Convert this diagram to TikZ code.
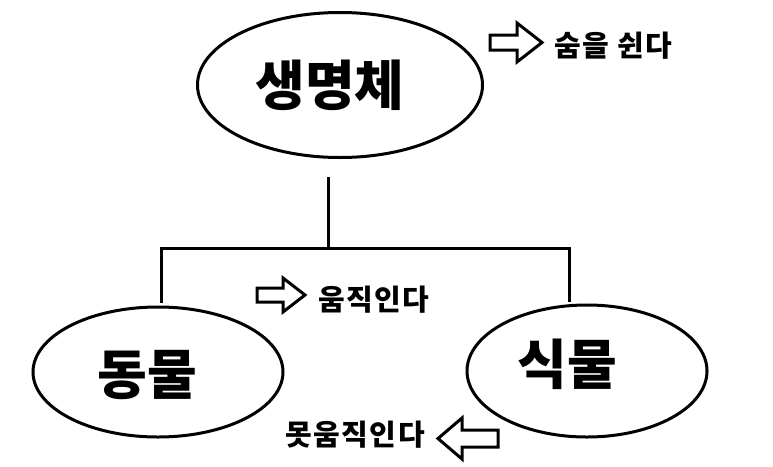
\documentclass[tikz,border=0pt]{standalone}
\usepackage{fontspec}
\setmainfont{Noto Sans CJK KR}
\usepackage{tikz}
\usetikzlibrary{positioning,shapes.geometric}

\begin{document}
\begin{tikzpicture}[
    x=1pt, y=-1pt,
    bubble/.style={
        draw,
        ellipse,
        line width=3pt,
        inner sep=0pt
    },
    bigtext/.style={
        font=\fontsize{54}{60}\selectfont\bfseries,
        inner sep=0pt
    },
    smalltext/.style={
        font=\fontsize{29}{33}\selectfont\bfseries\addfontfeature{LetterSpace=5},
        inner sep=0pt
    },
    branch/.style={line width=3pt},
    blockarrow/.style={draw, fill=white, line width=3pt}
]

% Canvas
\useasboundingbox[fill=white] (0,0) rectangle (773,466);

% Top ellipse
\node[bubble, minimum width=285pt, minimum height=145pt] (life) at (340,85) {};
\node[bigtext] (lifetext) at ([xshift=-10pt]life.center) {생명체};

% Bottom ellipses
\node[bubble, minimum width=250pt, minimum height=130pt] (animal) at (158,372) {};
\node[bigtext] (animaltext) at ([xshift=-11pt,yshift=-3pt]animal.center) {동물};
\node[bubble, minimum width=240pt, minimum height=132pt] (plant) at (587,371) {};
\node[bigtext] (planttext) at ([xshift=-20pt,yshift=7pt]plant.center) {식물};

% Tree lines
\coordinate (trunk) at (328,177);
\coordinate (fork) at (328,248);
\coordinate (leftfoot) at (161,303);
\coordinate (rightfoot) at (569,302);
\draw[branch] (trunk) -- (fork);
\draw[branch] (leftfoot) |- (fork) -| (rightfoot);

% Arrows
\draw[blockarrow] (490,35) -- (517,35) -- (517,23) -- (542,42.5) -- (517,62) -- (517,50) -- (490,50) -- cycle;
\node[smalltext, anchor=west] (breathe) at (554,46) {숨을 쉰다};

\draw[blockarrow] (257,288) -- (283,288) -- (283,278) -- (305,295) -- (283,312) -- (283,302) -- (257,302) -- cycle;
\node[smalltext, anchor=west] (move) at (318,300) {움직인다};

\draw[blockarrow] (498,430) -- (462,430) -- (462,418) -- (438,438.5) -- (462,459) -- (462,447) -- (498,447) -- cycle;
\node[smalltext, anchor=east] (nomove) at (425,435) {못움직인다};

\end{tikzpicture}
\end{document}
